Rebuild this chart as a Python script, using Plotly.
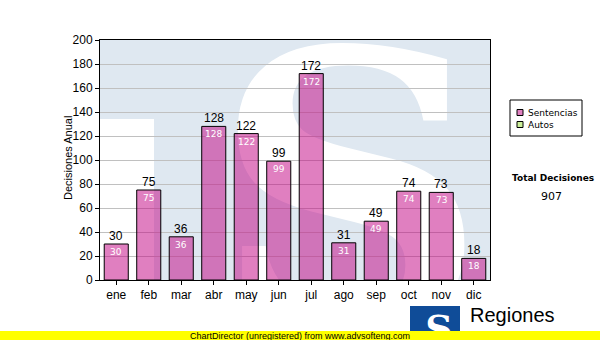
import base64
import plotly.graph_objects as go

# ---- data ----
months = ["ene", "feb", "mar", "abr", "may", "jun", "jul", "ago", "sep", "oct", "nov", "dic"]
sentencias = [30, 75, 36, 128, 122, 99, 172, 31, 49, 74, 73, 18]
series_names = ["Sentencias", "Autos"]
series_colors = ["#e080c0", "#ccf09a"]
y_title = "Decisiones Anual"
total_label = "Total Decisiones"
footer = "ChartDirector (unregistered) from www.advsofteng.com"
logo_text = "Regiones"

W, H = 600, 340
L, R, T, B = 100, 110, 40, 60
PW, PH = W - L - R, H - T - B


def px_x(x):
    return (x - L) / PW


def px_y(y):
    return (H - B - y) / PH


def svg_uri(svg):
    return "data:image/svg+xml;base64," + base64.b64encode(svg.encode()).decode()


wm_svg = f'''<svg xmlns="http://www.w3.org/2000/svg" width="{PW}" height="{PH}" viewBox="0 0 {PW} {PH}">
<rect width="{PW}" height="{PH}" fill="#dfe8f1"/>
<rect x="0" y="79" width="54" height="{PH}" fill="#ffffff"/>
<text x="250" y="285" font-family="DejaVu Serif" font-weight="bold" font-size="380" text-anchor="middle" fill="#ffffff">S</text>
</svg>'''

logo_svg = '''<svg xmlns="http://www.w3.org/2000/svg" width="50" height="35" viewBox="0 0 50 35">
<rect width="50" height="35" fill="#0f4c98"/>
<text x="29" y="36" font-family="DejaVu Serif" font-weight="bold" font-size="38" text-anchor="middle" fill="#ffffff">S</text>
</svg>'''

fig = go.Figure()
fig.add_trace(go.Bar(
    x=months, y=sentencias, name=series_names[0],
    marker=dict(color="rgba(193,0,129,0.5)", line=dict(color="black", width=1)),
    width=0.74, showlegend=False, hoverinfo="skip",
))

annotations = []
for m, v in zip(months, sentencias):
    annotations.append(dict(x=m, y=v, text=str(v), showarrow=False, yanchor="bottom",
                            yshift=-1, font=dict(family="Liberation Sans", size=12, color="black")))
    annotations.append(dict(x=m, y=v, text=str(v), showarrow=False, yanchor="top",
                            yshift=-1, font=dict(family="DejaVu Sans", size=9, color="white")))

# y-axis title
annotations.append(dict(xref="paper", yref="paper", x=px_x(68), y=px_y(158), text=y_title,
                        textangle=-90, showarrow=False, xanchor="center", yanchor="middle",
                        font=dict(family="Liberation Sans", size=11, color="black")))
# legend (manual)
shapes = [
    dict(type="rect", xref="paper", yref="paper", x0=px_x(510), x1=px_x(582), y0=px_y(100), y1=px_y(136),
         line=dict(color="black", width=1), fillcolor="white", layer="above"),
]
for i, (nm, col) in enumerate(zip(series_names, series_colors)):
    yc = 112.5 + 12 * i
    shapes.append(dict(type="rect", xref="paper", yref="paper", x0=px_x(517), x1=px_x(523),
                       y0=px_y(yc - 3), y1=px_y(yc + 3), fillcolor=col,
                       line=dict(color="black", width=1), layer="above"))
    annotations.append(dict(xref="paper", yref="paper", x=px_x(526), y=px_y(yc), text=nm,
                            xanchor="left", yanchor="middle", showarrow=False,
                            font=dict(family="DejaVu Sans", size=9, color="black")))

annotations.append(dict(xref="paper", yref="paper", x=px_x(553), y=px_y(178), text=f"<b>{total_label}</b>",
                        showarrow=False, xanchor="center", yanchor="middle",
                        font=dict(family="DejaVu Sans", size=9, color="black")))
annotations.append(dict(xref="paper", yref="paper", x=px_x(551), y=px_y(196), text=str(sum(sentencias)),
                        showarrow=False, xanchor="center", yanchor="middle",
                        font=dict(family="DejaVu Sans", size=11, color="black")))

# footer yellow bar
shapes.append(dict(type="rect", xref="paper", yref="paper", x0=px_x(0), x1=px_x(600), y0=px_y(331), y1=px_y(341),
                   fillcolor="#ffff00", line=dict(width=0), layer="below"))
annotations.append(dict(xref="paper", yref="paper", x=px_x(300), y=px_y(335.5), text=footer,
                        showarrow=False, xanchor="center", yanchor="middle",
                        font=dict(family="Liberation Sans", size=9, color="black")))
annotations.append(dict(xref="paper", yref="paper", x=px_x(468), y=px_y(315), text=logo_text,
                        showarrow=False, xanchor="left", yanchor="middle",
                        font=dict(family="Liberation Sans", size=20, color="black")))

images = [
    dict(source=svg_uri(wm_svg), xref="paper", yref="paper", x=0, y=1, sizex=1, sizey=1,
         xanchor="left", yanchor="top", sizing="stretch", layer="below"),
    dict(source=svg_uri(logo_svg), xref="paper", yref="paper", x=px_x(410), y=px_y(306),
         sizex=50 / PW, sizey=35 / PH, xanchor="left", yanchor="top", sizing="stretch", layer="below"),
]

fig.update_layout(
    width=W, height=H, margin=dict(l=L, r=R, t=T, b=B, pad=0),
    paper_bgcolor="white", plot_bgcolor="#dfe8f1",
    barmode="overlay", showlegend=False,
    annotations=annotations, shapes=shapes, images=images,
    font=dict(family="Liberation Sans", size=12, color="black"),
)
fig.update_xaxes(showline=True, mirror=True, linecolor="black", linewidth=1,
                 ticks="outside", ticklen=4, tickcolor="black", showgrid=False,
                 tickfont=dict(family="Liberation Sans", size=12, color="black"))
fig.update_yaxes(range=[0, 200], dtick=20, showline=True, mirror=True, linecolor="black", linewidth=1,
                 ticks="outside", ticklen=4, tickcolor="black", showgrid=True, gridcolor="#c0c0c0",
                 zeroline=False,
                 tickfont=dict(family="Liberation Sans", size=12, color="black"))

fig.write_html("out.html")
